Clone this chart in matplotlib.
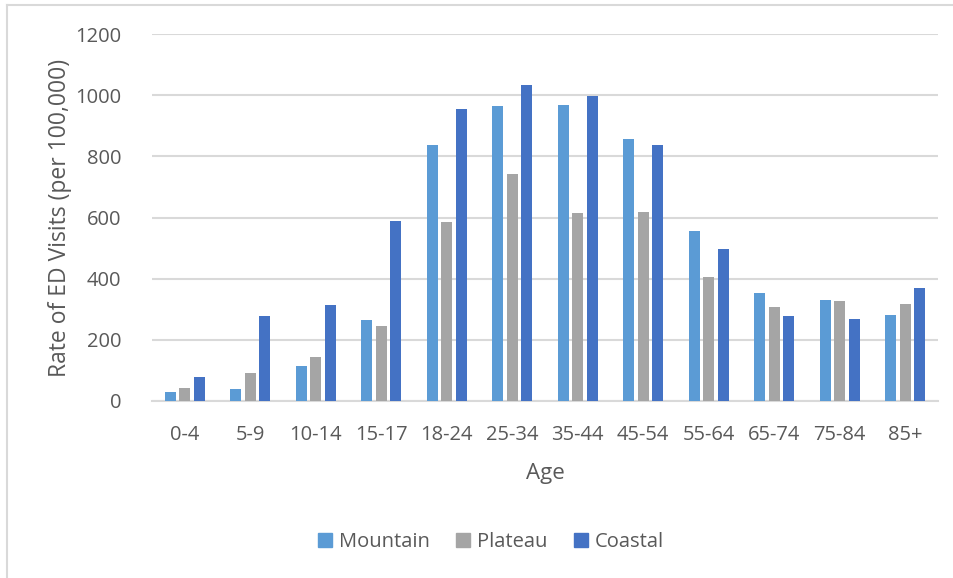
import numpy as np
import matplotlib
matplotlib.use('Agg')
import matplotlib.pyplot as plt
from matplotlib.lines import Line2D

plt.rcParams['font.family'] = ['Open Sans', 'DejaVu Sans']

# Dados
idades = ['0-4', '5-9', '10-14', '15-17', '18-24', '25-34', '35-44',
          '45-54', '55-64', '65-74', '75-84', '85+']
mountain = [29, 39, 116, 264, 837, 965, 969, 857, 555, 352, 330, 281]
plateau = [41, 90, 143, 245, 585, 741, 616, 618, 407, 308, 328, 317]
coastal = [78, 279, 313, 587, 954, 1032, 997, 838, 498, 278, 268, 371]

series = [('Mountain', mountain, '#5B9BD5'),
          ('Plateau', plateau, '#A5A5A5'),
          ('Coastal', coastal, '#4472C4')]

W, H = 954, 578
fig = plt.figure(figsize=(W / 100, H / 100), dpi=100)
ax = fig.add_axes([152 / W, 1 - 401 / H, (938 - 152) / W, (401 - 34) / H])

x = np.arange(len(idades))
passo = 0.221
for i, (nome, vals, cor) in enumerate(series):
    ax.bar(x + (i - 1) * passo, vals, width=0.173, color=cor, label=nome, zorder=3)

ax.set_xlim(-0.5, len(idades) - 0.5)
ax.set_ylim(0, 1200)
ax.set_yticks(range(0, 1201, 200))
ax.set_xticks(x)
ax.set_xticklabels(idades)
ax.grid(axis='y', color='#D9D9D9', linewidth=1.5, zorder=0)
for s in ['top', 'right', 'left']:
    ax.spines[s].set_visible(False)
ax.spines['bottom'].set_color('#D9D9D9')
ax.spines['bottom'].set_linewidth(1.5)
ax.tick_params(axis='both', length=0, labelsize=14.5, labelcolor='#595959')
ax.tick_params(axis='y', pad=22)
ax.tick_params(axis='x', pad=17)

ax.set_xlabel('Age', fontsize=16, color='#595959', labelpad=13)
ax.set_ylabel('Rate of ED Visits (per 100,000)', fontsize=16.5, color='#595959')
ax.yaxis.set_label_coords((72 - 152) / 786, 0.5)

handles = [Line2D([], [], marker='s', linestyle='', markersize=10,
                  markerfacecolor=c, markeredgecolor=c) for _, _, c in series]
fig.legend(handles, [n for n, _, _ in series], loc='center', ncol=3,
           bbox_to_anchor=(491 / W, 1 - 542 / H), frameon=False,
           fontsize=14.5, labelcolor='#595959', handlelength=0.7,
           handletextpad=0.35, columnspacing=1.3)

# moldura do gráfico
fig.add_artist(Line2D([7 / W, 7 / W], [0, 1 - 5 / H], color='#D9D9D9', linewidth=1.5))
fig.add_artist(Line2D([7 / W, 1], [1 - 5 / H, 1 - 5 / H], color='#D9D9D9', linewidth=1.5))

fig.savefig('out.png', dpi=100)
